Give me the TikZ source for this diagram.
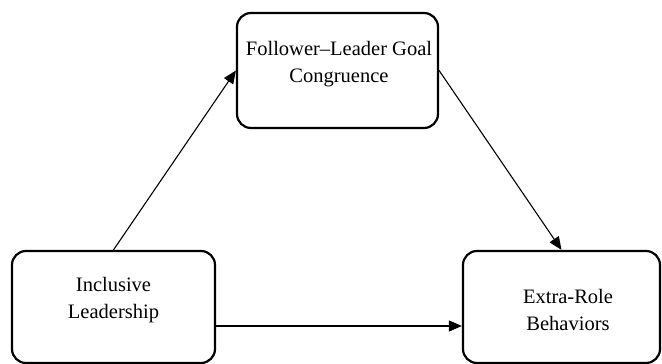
\documentclass[tikz,border=0pt]{standalone}
\usepackage{fontspec}
\setmainfont{Liberation Serif}
\usepackage{tikz}
\usetikzlibrary{arrows.meta, positioning}
\tikzset{
    block/.style={rectangle, rounded corners=14pt, draw=black, line width=2.2pt, fill=white},
    lbl/.style={align=center, font=\fontsize{20.5}{27}\selectfont},
    arrow/.style={line width=1.1pt, -{Triangle[length=13pt, width=11pt]}},
}
\begin{document}
\begin{tikzpicture}
  \useasboundingbox (0,0) rectangle (662pt,364pt);
  \node[block, minimum width=203pt, minimum height=112pt,
        label={[lbl, yshift=7.25pt]center:Inclusive\\Leadership}]
        (IL) at (113.5pt,57pt) {};
  \node[block, minimum width=201pt, minimum height=115pt,
        label={[lbl, xshift=1.5pt, yshift=6.75pt]center:Follower--Leader Goal\\Congruence}]
        (FLGC) at (337.5pt,293.5pt) {};
  \node[block, minimum width=197pt, minimum height=112pt,
        label={[lbl, xshift=6.5pt, yshift=-3pt]center:Extra-Role\\Behaviors}]
        (ERB) at (561.5pt,57pt) {};

  \draw[arrow] (IL.north) -- (FLGC.west);
  \draw[arrow] (FLGC.east) -- (ERB.north);
  \draw[arrow] ([yshift=-19pt]IL.east) -- ([yshift=-19pt]IL.east -| ERB.west);
\end{tikzpicture}
\end{document}
